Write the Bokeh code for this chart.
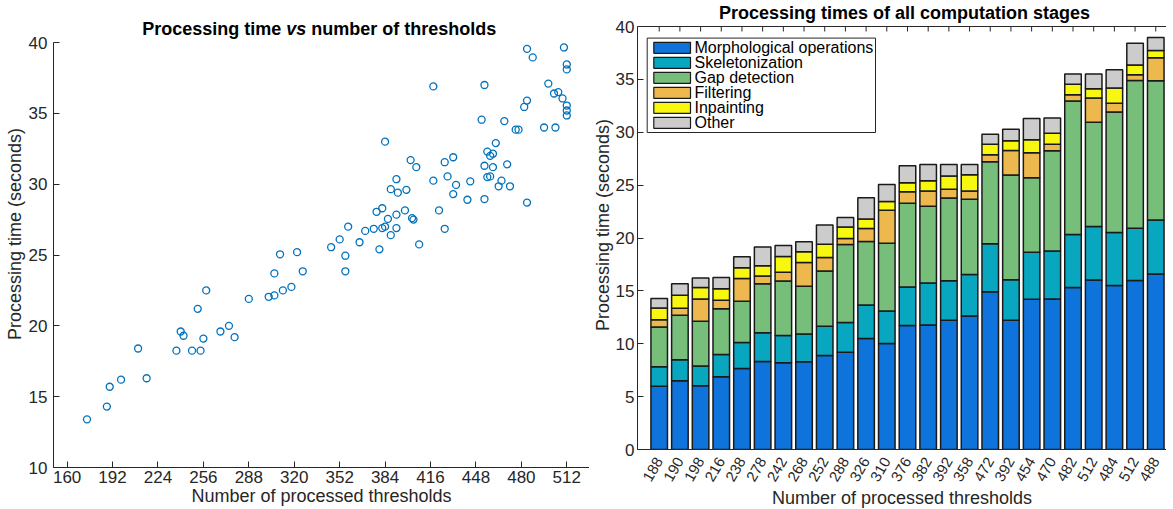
import math
from bokeh.plotting import figure
from bokeh.layouts import row, column
from bokeh.models import (Range1d, FixedTicker, Label, Span, BoxAnnotation,
                          ColumnDataSource)
from bokeh.embed import file_html
from bokeh.resources import INLINE

FONT = "Liberation Sans"
TXT = "#262626"

# ---------------- data: scatter (left) ----------------
thresholds = [174, 188, 190, 198, 210, 216, 237, 240, 242, 248, 252, 254, 256, 258,
              268, 274, 278, 288, 302, 306, 306, 310, 312, 318, 322, 326, 346, 352,
              356, 356, 358, 366, 370, 376, 378, 380, 382, 382, 384, 384, 386, 388,
              388, 392, 392, 392, 393, 398, 399, 402, 403, 404, 406, 408, 418, 418,
              422, 426, 426, 428, 432, 432, 434, 442, 444, 452, 454, 454, 454, 456,
              456, 458, 458, 460, 460, 462, 464, 466, 468, 470, 472, 476, 478, 482,
              484, 484, 484, 488, 496, 499, 503, 504, 506, 509, 510, 512, 512, 512,
              512, 512]
times = [13.4, 14.3, 15.7, 16.2, 18.4, 16.3, 18.25, 19.6, 19.3, 18.25, 21.2, 18.25,
         19.1, 22.5, 19.6, 20.0, 19.2, 21.9, 22.05, 22.15, 23.7, 25.05, 22.5, 22.75,
         25.2, 23.85, 25.55, 26.1, 24.95, 23.85, 27.0, 25.9, 26.7, 26.85, 28.05, 25.4,
         28.3, 26.9, 27.0, 33.0, 27.55, 26.4, 29.65, 27.85, 30.35, 26.9, 29.4, 28.15,
         29.6, 31.7, 27.6, 27.5, 31.2, 25.75, 36.9, 30.25, 28.15, 31.55, 26.85, 30.55,
         31.9, 29.3, 29.95, 28.9, 30.2, 34.55, 37.0, 31.3, 28.95, 32.3, 30.5, 32.0,
         30.55, 32.15, 31.2, 32.9, 29.85, 30.25, 34.45, 31.4, 29.85, 33.85, 33.85,
         35.45, 39.55, 35.9, 28.7, 38.95, 34.0, 37.1, 36.4, 34.0, 36.5, 36.05, 39.65,
         38.45, 38.1, 35.55, 35.2, 34.85]
scatter_xticks = [160, 192, 224, 256, 288, 320, 352, 384, 416, 448, 480, 512]
scatter_yticks = [10, 15, 20, 25, 30, 35, 40]

# ---------------- data: stacked bars (right) ----------------
bar_labels = ["188", "190", "198", "216", "238", "278", "242", "268", "252", "288",
              "326", "310", "376", "382", "392", "358", "472", "392", "454", "470",
              "482", "512", "484", "512", "488"]
morph = [5.97, 6.50, 6.03, 6.88, 7.67, 8.33, 8.20, 8.29, 8.89, 9.20, 10.49, 10.02,
         11.72, 11.78, 12.22, 12.63, 14.92, 12.22, 14.20, 14.23, 15.33, 16.02, 15.52,
         15.99, 16.59]
skel = [1.85, 1.98, 1.86, 2.11, 2.45, 2.70, 2.58, 2.64, 2.77, 2.80, 3.18, 3.08, 3.64,
        3.96, 3.74, 3.93, 4.53, 3.83, 4.46, 4.53, 5.00, 5.06, 5.00, 4.93, 5.12]
gap = [3.77, 4.21, 4.24, 4.33, 3.89, 4.65, 5.15, 4.50, 5.21, 7.38, 6.00, 6.41, 7.92,
       7.26, 7.82, 7.10, 7.76, 9.90, 7.04, 9.48, 12.63, 9.87, 11.40, 13.98, 13.16]
filt = [0.69, 0.66, 2.10, 0.79, 2.17, 0.72, 0.82, 2.26, 1.29, 0.57, 1.22, 3.11, 1.10,
        1.44, 0.82, 0.78, 0.66, 2.33, 2.35, 0.63, 0.59, 2.29, 0.82, 0.54, 2.17]
inp = [1.10, 1.23, 1.10, 1.10, 1.01, 0.97, 1.50, 1.00, 1.26, 1.10, 0.91, 0.82, 0.85,
       0.98, 1.26, 1.54, 1.00, 0.91, 1.23, 1.04, 0.98, 0.88, 1.44, 0.91, 0.69]
other = [0.91, 1.10, 0.88, 1.06, 1.03, 1.79, 1.04, 0.95, 1.82, 0.88, 2.01, 1.63, 1.60,
         1.54, 1.10, 0.98, 0.94, 1.10, 2.01, 1.44, 0.97, 1.38, 1.73, 2.07, 1.23]
stage_names = ["Morphological operations", "Skeletonization", "Gap detection",
               "Filtering", "Inpainting", "Other"]
stage_colors = ["#0e73da", "#09a7bf", "#77be7b", "#edb94f", "#f7f710", "#cccccc"]
bar_yticks = [0, 5, 10, 15, 20, 25, 30, 35, 40]

# ---------------- layout constants (pixels) ----------------
L_FRAME_W, L_FRAME_H = 536, 467   # left frame; y=40 sits L_TOP_GAP below its top
L_TOP_GAP = 42
R_FRAME_W, R_FRAME_H = 529, 449   # right frame; y=40 sits R_TOP_GAP below its top
R_TOP_GAP = 26


def style_axis(ax, tick_in=6, label_size="17px"):
    ax.axis_line_color = TXT
    ax.axis_line_width = 1
    ax.major_tick_line_color = TXT
    ax.major_tick_line_width = 1
    ax.major_tick_in = tick_in
    ax.major_tick_out = 0
    ax.minor_tick_line_color = None
    ax.major_label_text_font = FONT
    ax.major_label_text_font_size = label_size
    ax.major_label_text_color = TXT
    ax.axis_label_text_font = FONT
    ax.axis_label_text_font_size = "18px"
    ax.axis_label_text_color = TXT
    ax.axis_label_text_font_style = "normal"


# ---------------- left: scatter ----------------
ppu1 = (L_FRAME_H - L_TOP_GAP) / 30.0
p1 = figure(frame_width=L_FRAME_W, frame_height=L_FRAME_H, output_backend="svg",
            toolbar_location=None, x_range=Range1d(150.4, 528),
            y_range=Range1d(10, 40 + L_TOP_GAP / ppu1),
            min_border_left=53, min_border_right=0, min_border_top=0,
            min_border_bottom=0, title=None)
p1.outline_line_color = None
p1.grid.grid_line_color = None
p1.scatter(thresholds, times, marker="circle", size=7, fill_color=None,
           line_color="#0072bd", line_width=1.3)
xa = p1.xaxis[0]
ya = p1.yaxis[0]
style_axis(xa)
style_axis(ya)
xa.ticker = FixedTicker(ticks=scatter_xticks)
ya.ticker = FixedTicker(ticks=scatter_yticks)
ya.bounds = (10, 40)
xa.axis_label = "Number of processed thresholds"
ya.axis_label = "Processing time (seconds)"
xa.major_label_standoff = 3
xa.axis_label_standoff = 0
ya.major_label_standoff = 6
ya.axis_label_standoff = 1

t1_y = 40 + 13.5 / ppu1
for text, x, align, style in [("Processing time", 227.8, "right", "bold"),
                              ("vs", 232.8, "left", "bold italic"),
                              ("number of thresholds", 257.8, "left", "bold")]:
    p1.add_layout(Label(x=x, y=t1_y, x_units="screen", y_units="data", text=text,
                        text_align=align, text_baseline="middle", text_font=FONT,
                        text_font_size="18px", text_font_style=style,
                        text_color="black"))

# ---------------- right: stacked bars ----------------
xs = list(range(1, len(bar_labels) + 1))
src = ColumnDataSource(dict(x=xs, morph=morph, skel=skel, gap=gap, filt=filt,
                            inp=inp, other=other))
keys = ["morph", "skel", "gap", "filt", "inp", "other"]

ppu = (R_FRAME_H - R_TOP_GAP) / 40.0          # pixels per second on the right plot
spacing = 20.69                               # pixels per bar slot
x0 = -0.049
p2 = figure(frame_width=R_FRAME_W, frame_height=R_FRAME_H, output_backend="svg",
            toolbar_location=None, x_range=Range1d(x0, x0 + R_FRAME_W / spacing),
            y_range=Range1d(0, 40 + R_TOP_GAP / ppu),
            min_border_left=0, min_border_right=0, min_border_top=0,
            min_border_bottom=0, title=None)
p2.outline_line_color = None
p2.grid.grid_line_color = None
renderers = p2.vbar_stack(keys, x="x", width=0.8, source=src, fill_color=stage_colors,
                          line_color="#1a1a1a", line_width=1.5)

bx = p2.below[0]
by = p2.left[0]
style_axis(bx, tick_in=0, label_size="15px")
style_axis(by, tick_in=6)
bx.ticker = FixedTicker(ticks=xs)
bx.major_label_overrides = {x: lab for x, lab in zip(xs, bar_labels)}
bx.major_label_orientation = math.radians(60)
bx.major_label_standoff = 9
bx.axis_label_standoff = 0
bx.axis_label = "Number of processed thresholds"
by.ticker = FixedTicker(ticks=bar_yticks)
by.bounds = (0, 40)
by.axis_label = "Processing time (seconds)"
by.major_label_standoff = 3
by.axis_label_standoff = 0

# box top edge at 40 s with inward ticks at every bar position
p2.add_layout(Span(location=40, dimension="width", line_color=TXT, line_width=1))
p2.segment(x0=xs, y0=[40] * len(xs), x1=xs, y1=[40 - 5 / ppu] * len(xs),
           line_color=TXT, line_width=1)


def below40(px):
    return 40 - px / ppu


# legend (drawn by hand so that the row pitch matches the reference)
LX = 9.7
p2.add_layout(BoxAnnotation(left=LX, right=LX + 228.3, left_units="screen",
                            right_units="screen", top=below40(11.6),
                            bottom=below40(106.0), fill_color="white", fill_alpha=1,
                            line_color=TXT, line_width=1, line_alpha=1))
for i, (name, col) in enumerate(zip(stage_names, stage_colors)):
    cy = 21.3 + 15.0 * i
    p2.add_layout(BoxAnnotation(left=LX + 6.6, right=LX + 43.3, left_units="screen",
                                right_units="screen", top=below40(cy - 5.5),
                                bottom=below40(cy + 5.5), fill_color=col,
                                fill_alpha=1, line_color="#1a1a1a", line_width=1.2,
                                line_alpha=1))
    p2.add_layout(Label(x=LX + 47.3, y=below40(cy), x_units="screen", y_units="data",
                        text=name, text_align="left", text_baseline="middle",
                        text_font=FONT, text_font_size="16px", text_color="black"))

p2.add_layout(Label(x=267.0, y=40 + 13.4 / ppu, x_units="screen", y_units="data",
                    text="Processing times of all computation stages",
                    text_align="center", text_baseline="middle", text_font=FONT,
                    text_font_size="18px", text_font_style="bold", text_color="black"))

layout = row(column(p1), column(p2))
open("out.html", "w").write(file_html(layout, INLINE))
